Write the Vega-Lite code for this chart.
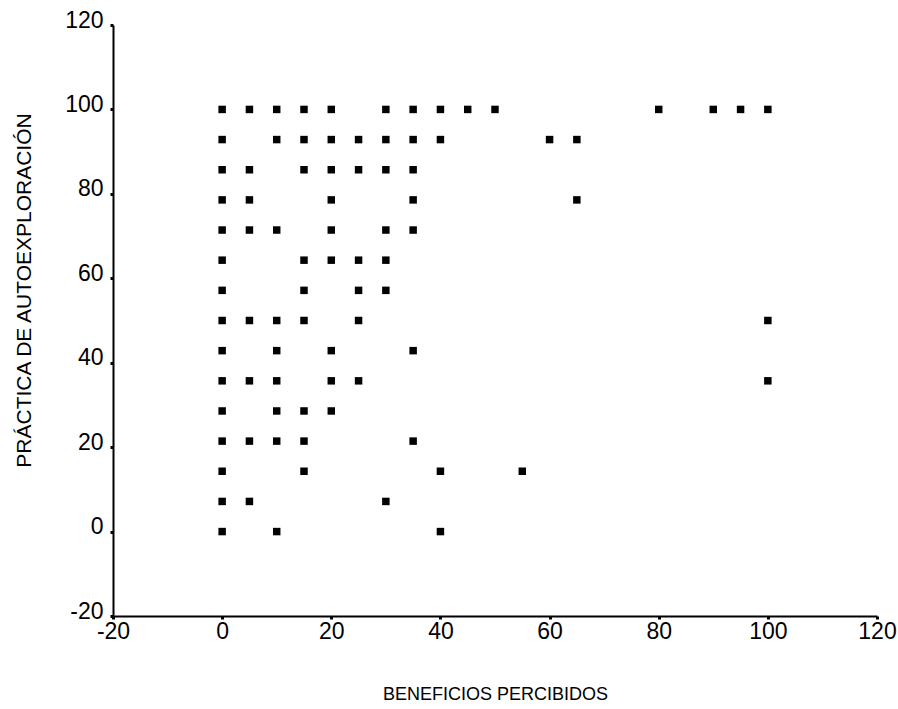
{
  "$schema": "https://vega.github.io/schema/vega-lite/v6.json",
  "width": 764,
  "height": 591,
  "autosize": {"type": "none"},
  "padding": {"left": 113, "top": 25, "right": 21, "bottom": 93},
  "background": "white",
  "config": {
    "view": {"stroke": null},
    "font": "Liberation Sans",
    "axis": {
      "domainColor": "black",
      "domainWidth": 2,
      "tickColor": "black",
      "tickWidth": 3,
      "tickSize": 3,
      "grid": false,
      "labelFlush": false,
      "labelOverlap": false,
      "labelColor": "black",
      "labelFont": "Liberation Sans",
      "titleColor": "black",
      "titleFont": "Liberation Sans",
      "titleFontWeight": "normal"
    }
  },
  "data": {
    "values": [
      {"beneficios": 0, "practica": 100}, {"beneficios": 5, "practica": 100}, {"beneficios": 10, "practica": 100}, {"beneficios": 15, "practica": 100}, {"beneficios": 20, "practica": 100}, {"beneficios": 30, "practica": 100}, {"beneficios": 35, "practica": 100}, {"beneficios": 40, "practica": 100}, {"beneficios": 45, "practica": 100}, {"beneficios": 50, "practica": 100}, {"beneficios": 80, "practica": 100}, {"beneficios": 90, "practica": 100}, {"beneficios": 95, "practica": 100}, {"beneficios": 100, "practica": 100},
      {"beneficios": 0, "practica": 92.86}, {"beneficios": 10, "practica": 92.86}, {"beneficios": 15, "practica": 92.86}, {"beneficios": 20, "practica": 92.86}, {"beneficios": 25, "practica": 92.86}, {"beneficios": 30, "practica": 92.86}, {"beneficios": 35, "practica": 92.86}, {"beneficios": 40, "practica": 92.86}, {"beneficios": 60, "practica": 92.86}, {"beneficios": 65, "practica": 92.86},
      {"beneficios": 0, "practica": 85.71}, {"beneficios": 5, "practica": 85.71}, {"beneficios": 15, "practica": 85.71}, {"beneficios": 20, "practica": 85.71}, {"beneficios": 25, "practica": 85.71}, {"beneficios": 30, "practica": 85.71}, {"beneficios": 35, "practica": 85.71},
      {"beneficios": 0, "practica": 78.57}, {"beneficios": 5, "practica": 78.57}, {"beneficios": 20, "practica": 78.57}, {"beneficios": 35, "practica": 78.57}, {"beneficios": 65, "practica": 78.57},
      {"beneficios": 0, "practica": 71.43}, {"beneficios": 5, "practica": 71.43}, {"beneficios": 10, "practica": 71.43}, {"beneficios": 20, "practica": 71.43}, {"beneficios": 30, "practica": 71.43}, {"beneficios": 35, "practica": 71.43},
      {"beneficios": 0, "practica": 64.29}, {"beneficios": 15, "practica": 64.29}, {"beneficios": 20, "practica": 64.29}, {"beneficios": 25, "practica": 64.29}, {"beneficios": 30, "practica": 64.29},
      {"beneficios": 0, "practica": 57.14}, {"beneficios": 15, "practica": 57.14}, {"beneficios": 25, "practica": 57.14}, {"beneficios": 30, "practica": 57.14},
      {"beneficios": 0, "practica": 50}, {"beneficios": 5, "practica": 50}, {"beneficios": 10, "practica": 50}, {"beneficios": 15, "practica": 50}, {"beneficios": 25, "practica": 50}, {"beneficios": 100, "practica": 50},
      {"beneficios": 0, "practica": 42.86}, {"beneficios": 10, "practica": 42.86}, {"beneficios": 20, "practica": 42.86}, {"beneficios": 35, "practica": 42.86},
      {"beneficios": 0, "practica": 35.71}, {"beneficios": 5, "practica": 35.71}, {"beneficios": 10, "practica": 35.71}, {"beneficios": 20, "practica": 35.71}, {"beneficios": 25, "practica": 35.71}, {"beneficios": 100, "practica": 35.71},
      {"beneficios": 0, "practica": 28.57}, {"beneficios": 10, "practica": 28.57}, {"beneficios": 15, "practica": 28.57}, {"beneficios": 20, "practica": 28.57},
      {"beneficios": 0, "practica": 21.43}, {"beneficios": 5, "practica": 21.43}, {"beneficios": 10, "practica": 21.43}, {"beneficios": 15, "practica": 21.43}, {"beneficios": 35, "practica": 21.43},
      {"beneficios": 0, "practica": 14.29}, {"beneficios": 15, "practica": 14.29}, {"beneficios": 40, "practica": 14.29}, {"beneficios": 55, "practica": 14.29},
      {"beneficios": 0, "practica": 7.14}, {"beneficios": 5, "practica": 7.14}, {"beneficios": 30, "practica": 7.14},
      {"beneficios": 0, "practica": 0}, {"beneficios": 10, "practica": 0}, {"beneficios": 40, "practica": 0}
    ]
  },
  "mark": {"type": "square", "color": "black", "opacity": 1, "size": 56},
  "encoding": {
    "x": {
      "field": "beneficios",
      "type": "quantitative",
      "scale": {"domain": [-20, 120], "nice": false, "zero": false},
      "axis": {
        "title": "BENEFICIOS PERCIBIDOS",
        "values": [-20, 0, 20, 40, 60, 80, 100, 120],
        "labelExpr": "'' + datum.value",
        "labelFontSize": 23,
        "labelPadding": 1,
        "labelBaseline": "top",
        "titleFontSize": 18,
        "titleX": 382,
        "titleY": 78,
        "titleAlign": "center",
        "titleBaseline": "middle"
      }
    },
    "y": {
      "field": "practica",
      "type": "quantitative",
      "scale": {"domain": [-20, 120], "nice": false, "zero": false},
      "axis": {
        "title": "PRÁCTICA DE AUTOEXPLORACIÓN",
        "values": [-20, 0, 20, 40, 60, 80, 100, 120],
        "labelExpr": "'' + datum.value",
        "labelFontSize": 23,
        "labelPadding": 7,
        "labelOffset": -5,
        "labelBaseline": "middle",
        "titleFontSize": 21,
        "titleAngle": 270,
        "titleX": -89,
        "titleY": 265,
        "titleAlign": "center",
        "titleBaseline": "middle"
      }
    }
  }
}
